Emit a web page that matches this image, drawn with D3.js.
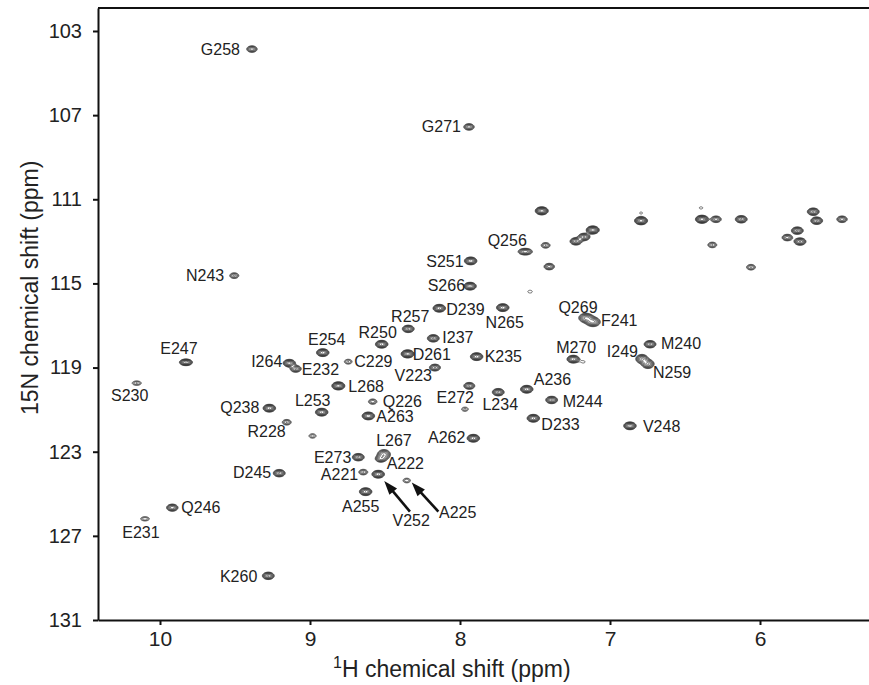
<!DOCTYPE html>
<html>
<head>
<meta charset="utf-8">
<script src="https://cdn.jsdelivr.net/npm/d3@7"></script>
<style>
  html, body { margin: 0; padding: 0; background: #fff; }
  svg { display: block; }
  text { font-family: "Liberation Sans", Arial, Helvetica, sans-serif; fill: #222; }
</style>
</head>
<body>
<svg id="chart" width="869" height="685"></svg>
<script>
// Assigned backbone amide cross-peaks: [assignment, 1H (ppm), 15N (ppm), height in lowest-contour units]
const assignedPeaks = [
  ["G258", 9.387, 103.86, 3.5],
  ["G271", 7.940, 107.56, 3.5],
  ["N243", 9.505, 114.63, 2.6],
  ["E247", 9.827, 118.75, 6.0],
  ["S230", 10.155, 119.74, 2.0],
  ["I264", 9.138, 118.79, 5.5],
  ["E232", 9.095, 119.06, 4.0],
  ["Q238", 9.271, 120.93, 6.0],
  ["R228", 9.155, 121.60, 2.5],
  ["E254", 8.915, 118.29, 6.0],
  ["C229", 8.745, 118.72, 2.0],
  ["R250", 8.522, 117.89, 6.0],
  ["L268", 8.811, 119.87, 7.0],
  ["L253", 8.922, 121.12, 6.0],
  ["Q226", 8.582, 120.62, 2.3],
  ["A263", 8.611, 121.30, 6.0],
  ["L267", 8.507, 123.13, 4.5],
  ["A222", 8.529, 123.34, 3.5],
  ["E273", 8.678, 123.26, 5.0],
  ["A221", 8.645, 123.97, 2.5],
  ["V252", 8.545, 124.07, 6.0],
  ["A225", 8.355, 124.37, 1.9],
  ["D245", 9.205, 124.02, 5.0],
  ["A255", 8.629, 124.90, 6.0],
  ["Q246", 9.918, 125.66, 4.5],
  ["E231", 10.100, 126.19, 1.9],
  ["K260", 9.278, 128.90, 5.0],
  ["S251", 7.929, 113.93, 6.0],
  ["S266", 7.933, 115.13, 6.0],
  ["Q256", 7.565, 113.49, 4.5],
  ["D239", 8.138, 116.18, 6.0],
  ["N265", 7.715, 116.15, 6.0],
  ["Q269", 7.160, 116.64, 5.0],
  ["F241", 7.113, 116.83, 5.0],
  ["R257", 8.345, 117.16, 5.0],
  ["I237", 8.178, 117.61, 5.0],
  ["D261", 8.349, 118.35, 7.0],
  ["K235", 7.889, 118.48, 6.0],
  ["V223", 8.167, 119.00, 4.0],
  ["M270", 7.245, 118.60, 6.0],
  ["E272", 7.938, 119.87, 4.0],
  ["L234", 7.745, 120.17, 5.0],
  ["A236", 7.555, 120.03, 6.0],
  ["M244", 7.389, 120.54, 5.0],
  ["D233", 7.511, 121.41, 6.0],
  ["A262", 7.911, 122.36, 6.0],
  ["M240", 6.733, 117.89, 5.0],
  ["I249", 6.787, 118.59, 5.0],
  ["N259", 6.747, 118.83, 5.0],
  ["V248", 6.867, 121.77, 6.0]
];

// Unassigned signals (side-chain NH2 region and weak extras): [1H (ppm), 15N (ppm), height]
const unassignedPeaks = [
  [7.455, 111.55, 7.0],
  [7.115, 112.46, 7.0],
  [7.227, 113.00, 5.0],
  [7.173, 112.79, 5.0],
  [7.429, 113.19, 2.5],
  [7.405, 114.20, 3.5],
  [7.533, 115.39, 1.25],
  [6.793, 112.02, 7.0],
  [6.793, 111.65, 1.1],
  [6.387, 111.95, 7.0],
  [6.393, 111.41, 1.15],
  [6.293, 111.95, 3.5],
  [6.125, 111.95, 5.0],
  [5.645, 111.59, 5.0],
  [5.622, 112.02, 5.0],
  [5.453, 111.95, 3.5],
  [5.751, 112.49, 5.0],
  [5.818, 112.82, 3.5],
  [5.733, 113.01, 5.0],
  [6.318, 113.17, 2.5],
  [6.060, 114.23, 2.5],
  [7.178, 118.73, 1.15],
  [7.967, 120.98, 1.7],
  [8.983, 122.25, 1.8]
];

// Gaussian widths (sigma, ppm) for signals broader than the default
const defaultWidth = [0.022, 0.098];
const peakWidths = {
  "Q256": [0.0275, 0.092],
  "E247": [0.023, 0.084],
  "L267": [0.025, 0.135],
  "Q269": [0.027, 0.125],
  "F241": [0.027, 0.125],
  "I249": [0.023, 0.12],
  "N259": [0.023, 0.12],
  "S230": [0.026, 0.09],
  "E231": [0.026, 0.09]
};

const xTicks = [10, 9, 8, 7, 6];
const yTicks = [103, 107, 111, 115, 119, 123, 127, 131];
const xDomain = [10.4133, 5.2733];
const yDomain = [101.907, 131];

// Label placement: [dx, dy (baseline), anchor] in px relative to the peak centre
const labelLayout = {
  G258: [-12, 6, "end"], G271: [-8, 5, "end"], N243: [-10, 5, "end"],
  E247: [-7, -8, "middle"], S230: [-7, 18, "middle"], I264: [-7, 4, "end"],
  E232: [6, 6, "start"], Q238: [-10, 5, "end"], R228: [-1, 15, "end"],
  E254: [4, -8, "middle"], C229: [6, 5, "start"], R250: [-4, -6, "middle"],
  L268: [10, 6, "start"], L253: [-9, -6, "middle"], Q226: [10, 5, "start"],
  A263: [8, 6, "start"], L267: [10, -8, "middle"], A222: [6, 10, "start"],
  E273: [-7, 6, "end"], A221: [-5, 8, "end"], D245: [-8, 5, "end"],
  A255: [-5, 20, "middle"], V252: [33, 52, "middle"], A225: [51, 37, "middle"],
  Q246: [9, 5, "start"], E231: [-4, 19, "middle"], K260: [-11, 6, "end"],
  S251: [-7, 6, "end"], S266: [-5, 5, "end"], Q256: [-18, -6, "middle"],
  D239: [7, 7, "start"], N265: [2, 20, "middle"], Q269: [-8, -5, "middle"],
  F241: [8, 4, "start"], R257: [2, -7, "middle"], I237: [9, 5, "start"],
  D261: [5, 6, "start"], K235: [8, 5, "start"], V223: [-3, 13, "end"],
  M270: [3, -6, "middle"], E272: [-14, 17, "middle"], L234: [2, 18, "middle"],
  A236: [7, -4, "start"], M244: [11, 7, "start"], D233: [8, 12, "start"],
  A262: [-8, 5, "end"], M240: [11, 5, "start"], I249: [-4, -2, "end"],
  N259: [5, 14, "start"], V248: [13, 6, "start"]
};

// Pointer arrows for crowded peaks: tail and tip offsets in px from the peak centre
const arrowLayout = {
  V252: [[31.7, 37.4], [6, 6.7]],
  A225: [[31.6, 31], [5, 2]]
};

const margin = { left: 98, top: 8 };
const plotW = 771, plotH = 612;

const svg = d3.select("#chart");
const x = d3.scaleLinear().domain(xDomain).range([0, plotW]);
const y = d3.scaleLinear().domain(yDomain).range([0, plotH]);
const g = svg.append("g").attr("transform", `translate(${margin.left},${margin.top})`);

// ---- spectrum surface: sum of 2D Gaussians sampled on a half-pixel grid ----
const res = 2;
const gw = Math.ceil(plotW * res), gh = Math.ceil(plotH * res);
const grid = new Float64Array(gw * gh);
const pxPerPpmX = Math.abs(x(1) - x(0));
const pxPerPpmY = Math.abs(y(1) - y(0));

const allPeaks = assignedPeaks.map(d => ({ id: d[0], h: d[1], n: d[2], amp: d[3] }))
  .concat(unassignedPeaks.map(d => ({ id: null, h: d[0], n: d[1], amp: d[2] })));

allPeaks.forEach(p => {
  const w = (p.id && peakWidths[p.id]) || defaultWidth;
  const sx = w[0] * pxPerPpmX * res, sy = w[1] * pxPerPpmY * res;
  const cx = x(p.h) * res, cy = y(p.n) * res;
  const i0 = Math.max(0, Math.floor(cx - 4.5 * sx)), i1 = Math.min(gw - 1, Math.ceil(cx + 4.5 * sx));
  const j0 = Math.max(0, Math.floor(cy - 4.5 * sy)), j1 = Math.min(gh - 1, Math.ceil(cy + 4.5 * sy));
  for (let j = j0; j <= j1; j++) {
    const dy = (j + 0.5 - cy) / sy;
    for (let i = i0; i <= i1; i++) {
      const dx = (i + 0.5 - cx) / sx;
      grid[j * gw + i] += p.amp * Math.exp(-0.5 * (dx * dx + dy * dy));
    }
  }
});

const levels = d3.range(0, 14).map(k => Math.pow(1.25, k));
const contours = d3.contours().size([gw, gh]).thresholds(levels)(grid);
const path = d3.geoPath(d3.geoIdentity().scale(1 / res));

g.append("g").attr("class", "contours")
  .selectAll("path")
  .data(contours)
  .join("path")
  .attr("d", path)
  .attr("fill", "none")
  .attr("stroke", "#2e2e2e")
  .attr("stroke-width", 0.7)
  .attr("stroke-linejoin", "round");

// ---- peak labels ----
const labeled = assignedPeaks.map(d => ({ id: d[0], h: d[1], n: d[2] }));
g.append("g").attr("class", "labels")
  .selectAll("text")
  .data(labeled)
  .join("text")
  .attr("x", d => x(d.h) + labelLayout[d.id][0])
  .attr("y", d => y(d.n) + labelLayout[d.id][1])
  .attr("text-anchor", d => labelLayout[d.id][2])
  .attr("font-size", 16)
  .text(d => d.id);

// ---- arrows ----
const ag = g.append("g").attr("class", "arrows");
labeled.filter(d => arrowLayout[d.id]).forEach(d => {
  const px = x(d.h), py = y(d.n);
  const [tail, tip] = arrowLayout[d.id];
  const x1 = px + tail[0], y1 = py + tail[1], x2 = px + tip[0], y2 = py + tip[1];
  const ang = Math.atan2(y2 - y1, x2 - x1);
  const headL = 14, headW = 5;
  const bx = x2 - headL * Math.cos(ang), by = y2 - headL * Math.sin(ang);
  ag.append("line")
    .attr("x1", x1).attr("y1", y1).attr("x2", bx + 2 * Math.cos(ang)).attr("y2", by + 2 * Math.sin(ang))
    .attr("stroke", "#111").attr("stroke-width", 2.6);
  const nx = -Math.sin(ang), ny = Math.cos(ang);
  ag.append("path")
    .attr("d", `M${x2},${y2}L${bx + headW * nx},${by + headW * ny}L${bx - headW * nx},${by - headW * ny}Z`)
    .attr("fill", "#111");
});

// ---- axes ----
const xAxis = d3.axisBottom(x).tickValues(xTicks).tickFormat(d3.format("d"))
  .tickSizeInner(5).tickSizeOuter(0).tickPadding(6);
const yAxis = d3.axisLeft(y).tickValues(yTicks).tickFormat(d3.format("d"))
  .tickSizeInner(5).tickSizeOuter(0).tickPadding(11);

const gx = g.append("g").attr("transform", `translate(0,${plotH})`).call(xAxis);
const gy = g.append("g").call(yAxis);
[gx, gy].forEach(a => {
  a.select(".domain").attr("stroke", "#111").attr("stroke-width", 2);
  a.selectAll(".tick line").attr("stroke", "#111").attr("stroke-width", 2);
  a.selectAll(".tick text").attr("fill", "#222").attr("font-size", 20)
    .attr("font-family", '"Liberation Sans", Arial, sans-serif');
});
gx.selectAll(".tick text").attr("font-size", 21);

// top frame line
g.append("line").attr("x1", 0).attr("x2", plotW).attr("y1", 0).attr("y2", 0)
  .attr("stroke", "#111").attr("stroke-width", 2);

// ---- axis titles ----
const xt = svg.append("text").attr("x", 333).attr("y", 677).attr("font-size", 23);
xt.append("tspan").attr("font-size", 16).attr("dy", -9).text("1");
xt.append("tspan").attr("dy", 9).text("H chemical shift (ppm)");

svg.append("text")
  .attr("transform", "translate(38,415) rotate(-90)")
  .attr("font-size", 23)
  .text("15N chemical shift (ppm)");
</script>
</body>
</html>
